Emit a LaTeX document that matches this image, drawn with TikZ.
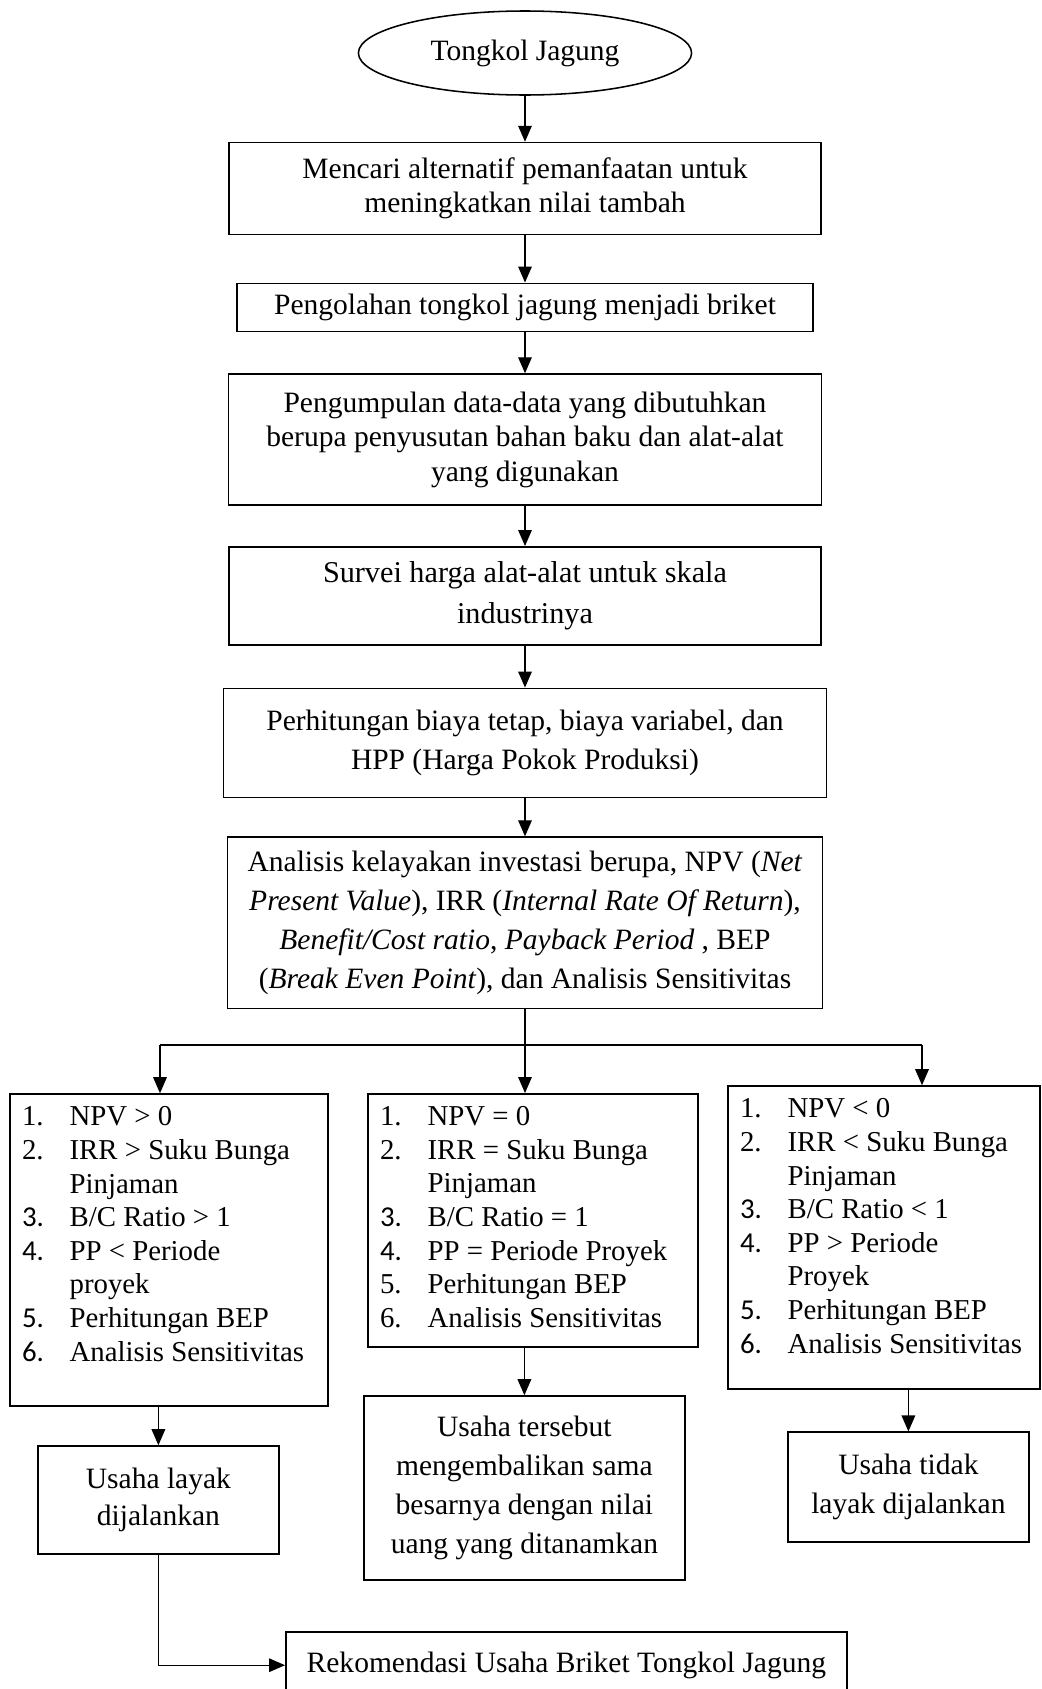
\documentclass[tikz,border=0pt]{standalone}
\usepackage{fontspec}
\setmainfont{Liberation Serif}
\newfontfamily\numfont{Carlito}
\usetikzlibrary{positioning, shapes.geometric, arrows.meta}

\newcommand{\nr}[1]{\makebox[1.19cm][l]{#1}}
\newcommand{\nrs}[1]{\makebox[1.19cm][l]{\numfont #1}}

\begin{document}
\begin{tikzpicture}[
     node distance = 1.1cm and 1cm,
                 > = {Triangle[length=4mm,width=3.4mm]},
        line width = 0.9pt,
              font = \fontsize{21}{24.5}\selectfont,
        box/.style 2 args = {rectangle, draw, line width=1.1pt, align=center,
                     inner sep=0pt, minimum width=#1, minimum height=#2},
       oval/.style = {ellipse, draw, line width=1.1pt, inner sep=0pt,
                     minimum width=8.33cm, minimum height=2.1cm},
        lst/.style = {rectangle, draw, line width=1.1pt, inner xsep=0.3cm,
                     inner ysep=0.32cm, align=left,
                     font=\fontsize{20.5}{23.9}\selectfont}
                        ]
\useasboundingbox (0,0) rectangle (26.025,-42.225);
% main column
\node (tongkol) [oval] at (13.125,-1.325) {Tongkol Jagung};
\node (cari) [box={14.8cm}{2.3cm}, below=1.15cm of tongkol]
     {Mencari alternatif pemanfaatan untuk\\ meningkatkan nilai tambah};
\node (olah) [box={14.4cm}{1.2cm}, below=1.18cm of cari]
     {Pengolahan tongkol jagung menjadi briket};
\node (kumpul) [box={14.83cm}{3.28cm}, below=1.03cm of olah]
     {Pengumpulan data-data yang dibutuhkan\\ berupa penyusutan bahan baku dan alat-alat\\ yang digunakan};
\node (survei) [box={14.8cm}{2.45cm}, below=1.0cm of kumpul, font=\fontsize{21.5}{29}\selectfont]
     {Survei harga alat-alat untuk skala\\ industrinya};
\node (hitung) [box={15.08cm}{2.73cm}, below=1.05cm of survei, font=\fontsize{21}{28.4}\selectfont]
     {Perhitungan biaya tetap, biaya variabel, dan\\ HPP (Harga Pokok Produksi)};
\node (analisis) [box={14.88cm}{4.28cm}, below=0.95cm of hitung, font=\fontsize{21}{27.8}\selectfont]
     {Analisis kelayakan investasi berupa, NPV (\textit{Net}\\
      \textit{Present Value}), IRR (\textit{Internal Rate Of Return}),\\
      \textit{Benefit/Cost ratio}, \textit{Payback Period} , BEP\\
      (\textit{Break Even Point}), dan Analisis Sensitivitas};
\draw[->] (tongkol) -- (cari);
\draw[->] (cari) -- (olah);
\draw[->] (olah) -- (kumpul);
\draw[->] (kumpul) -- (survei);
\draw[->] (survei) -- (hitung);
\draw[->] (hitung) -- (analisis);
% criteria
\node (npvpos) [lst] at (4.225,-31.25) {\parbox[c][7.16cm][t]{7.35cm}{%
  \nr{1.}NPV > 0\\
  \nr{2.}IRR > Suku Bunga\\
  \nr{}Pinjaman\\
  \nrs{3.}B/C Ratio > 1\\
  \nrs{4.}PP < Periode\\
  \nr{}proyek\\
  \nrs{5.}Perhitungan BEP\\
  \nrs{6.}Analisis Sensitivitas}};
\node (npvnol) [lst] at (13.325,-30.51) {\parbox[c][5.69cm][t]{7.65cm}{%
  \nr{1.}NPV = 0\\
  \nr{2.}IRR = Suku Bunga\\
  \nr{}Pinjaman\\
  \nrs{3.}B/C Ratio = 1\\
  \nrs{4.}PP = Periode Proyek\\
  \nr{5.}Perhitungan BEP\\
  \nr{6.}Analisis Sensitivitas}};
\node (npvneg) [lst] at (22.1,-30.94) {\parbox[c][6.94cm][t]{7.2cm}{%
  \nr{1.}NPV < 0\\
  \nr{2.}IRR < Suku Bunga\\
  \nr{}Pinjaman\\
  \nrs{3.}B/C Ratio < 1\\
  \nrs{4.}PP > Periode\\
  \nr{}Proyek\\
  \nrs{5.}Perhitungan BEP\\
  \nrs{6.}Analisis Sensitivitas}};
\coordinate (split) at (analisis.south |- 0,-26.125);
\coordinate (brL) at (4.0,-26.125);
\coordinate (brR) at (23.05,-26.125);
\draw (analisis) -- (split);
\draw (brL) -- (brR);
\draw[->] (brL) -- (brL |- npvpos.north);
\draw[->] (split) -- (split |- npvnol.north);
\draw[->] (brR) -- (brR |- npvneg.north);
% outcomes
\node (layak) [box={6.03cm}{2.7cm}, font=\fontsize{21}{26.8}\selectfont] at (3.96,-37.5)
     {Usaha layak\\ dijalankan};
\node (impas) [box={8.03cm}{4.6cm}, font=\fontsize{21}{27.8}\selectfont] at (13.11,-37.2)
     {Usaha tersebut\\ mengembalikan sama\\ besarnya dengan nilai\\ uang yang ditanamkan};
\node (tdklayak) [box={6.03cm}{2.75cm}, font=\fontsize{21}{27.6}\selectfont] at (22.71,-37.18)
     {Usaha tidak\\ layak dijalankan};
\node (rekom) [box={14.03cm}{1.65cm}] at (14.16,-41.63)
     {Rekomendasi Usaha Briket Tongkol Jagung};
\draw[->] (npvpos.south -| layak) -- (layak);
\draw[->] (npvnol.south -| impas) -- (impas);
\draw[->] (npvneg.south -| tdklayak) -- (tdklayak);
\draw[->] (layak) |- (rekom);
\end{tikzpicture}
\end{document}
